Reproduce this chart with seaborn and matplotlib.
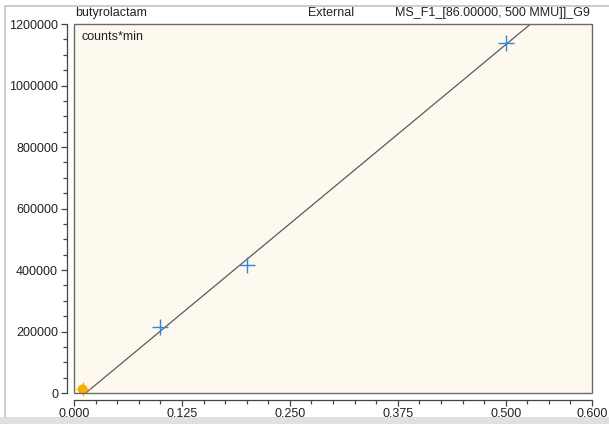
import numpy as np
import pandas as pd
import matplotlib
matplotlib.use("Agg")
import matplotlib.pyplot as plt
import seaborn as sns
from matplotlib.patches import Rectangle
from matplotlib.lines import Line2D
from matplotlib.ticker import MultipleLocator, FixedLocator

# Data
amount = [0.1, 0.2, 0.5]
area = [214000, 417000, 1137000]
sample_amount = [0.010]
sample_area = [12000]

title_left = "butyrolactam"
title_mid = "External"
title_right = "MS_F1_[86.00000, 500 MMU]]_G9"
y_unit = "counts*min"
x_ticks = [0.0, 0.125, 0.25, 0.375, 0.5, 0.6]
x_tick_labels = ["0,000", "0,125", "0,250", "0,375", "0,500", "0,600"]
y_ticks = [0, 200000, 400000, 600000, 800000, 1000000, 1200000]

sns.set_theme(style="white")
plt.rcParams['font.family'] = ['Liberation Sans', 'DejaVu Sans']

fig = plt.figure(figsize=(6.09, 4.24), dpi=100)
W, H = 609, 424
ax = fig.add_axes([74 / W, 1 - 393 / H, (592 - 74) / W, (393 - 24) / H])
ax.set_facecolor('#fef9ee')

df = pd.DataFrame({"amount": amount, "area": area})
# calibration line (linear fit)
slope, intercept = np.polyfit(amount, area, 1)
xs = np.array([0.0, 0.6])
line_df = pd.DataFrame({"x": xs, "y": slope * xs + intercept})
sns.lineplot(data=line_df, x="x", y="y", ax=ax, color='#5a5a5a', linewidth=0.9)

sns.scatterplot(data=df, x="amount", y="area", ax=ax, marker='+', s=135,
                color='#2f86d6', linewidth=1.0, zorder=5)
sdf = pd.DataFrame({"x": sample_amount, "y": sample_area})
sns.scatterplot(data=sdf, x="x", y="y", ax=ax, marker='o', s=50,
                color='#f5b000', edgecolor='none', zorder=6, clip_on=False)
sns.scatterplot(data=sdf, x="x", y="y", ax=ax, marker='+', s=110,
                color='#f5b000', linewidth=1.0, zorder=6, clip_on=False)

ax.set_xlim(0, 0.6)
ax.set_ylim(0, 1200000)
ax.set_xlabel("")
ax.set_ylabel("")

# frame
ax.add_patch(Rectangle((0, 0), 1, 1, transform=ax.transAxes, fill=False,
                       edgecolor='#6a6a6a', linewidth=1.0, zorder=10, clip_on=False))
for s in ['top', 'right']:
    ax.spines[s].set_visible(False)
for s in ['left', 'bottom']:
    ax.spines[s].set_visible(True)
    ax.spines[s].set_color('#444444')
    ax.spines[s].set_linewidth(0.9)
    ax.spines[s].set_position(('outward', 5))

ax.xaxis.set_major_locator(FixedLocator(x_ticks))
ax.set_xticklabels(x_tick_labels)
ax.xaxis.set_minor_locator(MultipleLocator(0.025))
ax.yaxis.set_major_locator(FixedLocator(y_ticks))
ax.set_yticklabels([str(v) for v in y_ticks])
ax.yaxis.set_minor_locator(MultipleLocator(50000))
ax.tick_params(axis='both', which='major', direction='out', length=4.5, width=0.9,
               color='#444444', labelsize=9, labelcolor='#222222', pad=1,
               bottom=True, left=True)
ax.tick_params(axis='y', which='major', pad=2)
ax.tick_params(axis='both', which='minor', direction='out', length=3, width=0.9,
               color='#444444', bottom=True, left=True)

fs = 9
fig.text(75 / W, 1 - 13 / H, title_left, fontsize=fs, va='center', ha='left', color='#222222')
fig.text(308 / W, 1 - 13 / H, title_mid, fontsize=fs, va='center', ha='left', color='#222222')
fig.text(590 / W, 1 - 13 / H, title_right, fontsize=fs, va='center', ha='right', color='#222222')
ax.text(7 / (592 - 74), 1 - 13 / (393 - 24), y_unit, transform=ax.transAxes,
        fontsize=fs, va='center', ha='left', color='#222222')

# outer border (top and left lines) and bottom band
fig.lines.append(Line2D([5 / W, 1], [1 - 6 / H, 1 - 6 / H], transform=fig.transFigure,
                        color='#c4c4c4', linewidth=1.2))
fig.lines.append(Line2D([5 / W, 5 / W], [1 - 6 / H, 1 - 417 / H], transform=fig.transFigure,
                        color='#c4c4c4', linewidth=1.2))
fig.patches.append(Rectangle((0, 0), 1, 7 / H, transform=fig.transFigure,
                             facecolor='#e0e0e0', edgecolor='none'))

fig.savefig("out.png", dpi=100)
